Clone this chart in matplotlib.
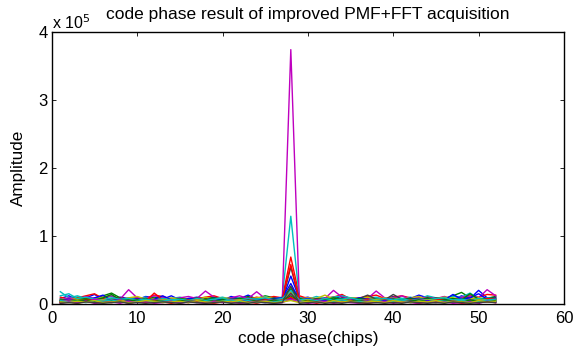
import numpy as np
import matplotlib.pyplot as plt
from matplotlib.ticker import FuncFormatter

plt.rcParams['font.family'] = ['Liberation Sans', 'DejaVu Sans']

# code phase 1..52 chips, amplitude in units of 1e3
chips = np.arange(1, 53)

a1 = [8,12,6,9,14,7,5,10,8,6,11,9,7, 12,6,8,10,7,9,5,11,8,13,7,6,9,
      6,41,8,10,6,9,7,12,8,5,10,9,7, 11,6,8,13,9,7,10,6,12,8,20,9,10]
a2 = [5,7,10,6,8,12,16,9,6,8,7,10,8, 6,9,7,5,8,10,6,9,7,11,8,12,9,
      7,25,9,6,8,7,10,6,9,8,11,7,6, 9,8,6,10,7,9,8,12,17,9,7,8,11]
a3 = [10,7,9,12,15,8,6,9,7,10,8,13,11, 7,9,6,8,10,12,8,6,9,7,10,8,11,
      9,69,12,8,6,9,10,14,7,9,11,13,8, 10,12,9,7,11,8,10,6,9,12,10,14,13]
a4 = [18,9,12,8,7,10,11,6,9,8,10,7,9, 8,10,7,9,6,8,10,7,9,6,8,11,7,
      10,129,9,7,11,8,10,12,9,7,8,10,6, 9,8,10,7,12,9,8,11,10,16,8,9,7]
a5 = [6,9,7,11,8,10,12,7,21,9,8,12,10, 7,9,11,8,19,10,7,9,12,8,18,8,7,
      5,374,6,9,7,8,20,10,7,9,8,19,9, 8,12,7,10,9,8,11,7,10,12,9,21,12]
a6 = [7,6,8,9,7,10,8,6,9,11,7,8,6, 9,7,8,6,10,7,9,8,6,7,9,10,8,
      6,18,7,9,8,13,7,6,9,8,10,7,9, 8,7,9,11,6,8,10,9,7,8,9,7,8]
a7 = [4,6,5,8,6,5,7,9,6,5,8,6,7, 5,7,6,9,5,8,6,7,5,9,6,7,8,
      6,54,7,5,8,6,7,9,6,8,13,7,6, 14,7,6,8,5,9,7,6,8,5,7,6,9]
a8 = [5,7,4,6,9,13,5,7,6,8,5,7,12, 6,5,8,7,6,9,5,7,8,6,7,5,8,
      9,30,6,8,5,7,6,8,5,9,7,6,8, 7,5,9,6,8,7,6,14,7,9,15,7,8]
a9 = [6,5,7,8,6,9,14,6,7,5,8,6,7, 5,8,6,7,5,9,7,6,8,7,5,6,7,
      6,22,8,5,7,6,9,7,5,8,6,7,5, 7,6,8,5,9,6,7,8,6,15,7,8,6]
a10 = [3,5,4,7,5,3,6,4,5,7,4,16,6, 5,4,6,3,7,5,4,6,5,8,4,6,5,
       7,58,5,4,6,5,3,6,4,5,7,4,6, 5,4,6,5,3,7,5,4,6,5,4,8,7]
a11 = [12,15,8,10,7,6,9,7,8,6,7,5,8, 6,7,5,8,6,7,9,5,6,8,7,9,6,
       8,20,6,7,5,8,6,7,9,6,5,7,8, 6,8,5,7,6,8,9,6,7,5,8,6,7]
a12 = [4,6,5,3,7,5,4,6,3,5,4,6,5, 3,5,4,6,3,5,4,6,5,3,4,5,6,
       4,14,5,3,6,4,5,3,6,4,5,4,3, 5,3,4,6,5,3,4,5,3,6,4,5,4]
a13 = [3,4,6,5,4,6,3,5,4,3,5,4,6, 5,3,4,6,5,4,3,5,6,4,5,3,4,
       5,9,4,6,3,5,4,6,5,3,4,6,5, 4,5,3,4,6,5,4,3,5,4,6,5,4]
a14 = [2,3,2,4,3,2,3,4,2,3,2,3,4, 3,2,4,3,2,3,4,2,3,2,4,3,2,
       3,16,2,3,4,2,3,2,4,3,2,3,2, 3,2,4,3,2,3,2,4,3,2,3,4,3]
a15 = [2,4,3,5,2,3,4,2,5,3,4,2,3, 4,2,3,5,2,4,3,2,4,5,3,2,4,
       3,8,4,2,3,5,2,4,3,2,4,3,5, 2,4,3,2,5,3,4,2,3,4,2,3,4]
a16 = [4,3,5,6,4,2,5,3,4,6,3,5,4, 2,5,4,3,6,4,5,3,2,4,5,3,6,
       4,12,3,5,4,2,6,3,4,5,3,4,2, 5,3,4,6,3,2,5,4,3,6,4,3,5]
a17 = [2,3,1,4,2,3,2,4,1,3,2,4,3, 1,3,2,4,2,1,3,4,2,3,1,4,2,
       3,10,2,4,1,3,2,3,4,2,1,3,2, 4,2,3,1,3,4,2,3,1,2,4,3,2]
a18 = [5,3,4,2,5,4,6,3,2,4,5,3,4, 6,3,4,2,5,3,4,6,3,5,2,4,3,
       5,6,4,3,5,2,4,6,3,4,2,5,3, 4,6,2,4,3,5,4,3,6,2,4,5,3]
a19 = [1,3,2,4,1,2,3,1,4,2,3,1,2, 4,1,3,2,1,4,2,3,1,2,4,3,1,
       2,7,3,1,2,4,1,3,2,1,3,2,4, 1,3,2,1,4,2,3,1,2,3,1,4,2]
a20 = [3,2,4,3,5,2,3,4,2,3,5,4,2, 3,4,2,5,3,2,4,3,5,2,3,4,2,
       3,5,2,4,3,2,5,3,4,2,3,4,2, 5,3,2,4,3,5,2,4,3,2,5,3,4]
a21 = [1,2,1,3,2,1,2,3,1,2,1,2,3, 2,1,3,2,1,2,3,1,2,1,3,2,1,
       2,26,1,2,3,1,2,1,3,2,1,2,1, 2,1,3,2,1,2,1,3,2,1,2,3,2]

series = [a1, a2, a3, a4, a5, a6, a7, a8, a9, a10, a11, a12, a13, a14,
          a15, a16, a17, a18, a19, a20, a21]

# old matlab colour order
cols = [(0, 0, 1), (0, 0.5, 0), (1, 0, 0), (0, 0.75, 0.75),
        (0.75, 0, 0.75), (0.75, 0.75, 0), (0.25, 0.25, 0.25)]

fig = plt.figure(figsize=(5.82, 3.51), dpi=100)
ax = fig.add_axes([0.089, 0.134, 0.88, 0.775])

for i, s in enumerate(series):
    ax.plot(chips, np.array(s) * 1e3, color=cols[i % 7], lw=1.0)

ax.set_xlim(0, 60)
ax.set_ylim(0, 4e5)
ax.set_xticks(np.arange(0, 61, 10))
ax.set_yticks(np.arange(0, 4.01e5, 1e5))
ax.yaxis.set_major_formatter(FuncFormatter(lambda v, p: '%d' % round(v / 1e5)))
ax.tick_params(direction='in', top=True, right=True, length=3, labelsize=12, width=0.6)
ax.tick_params(axis='x', pad=5)
ax.tick_params(axis='y', pad=3)
for sp in ax.spines.values():
    sp.set_linewidth(1.0)

ax.text(0.0, 1.0, 'x 10$^5$', transform=ax.transAxes, fontsize=11.5, va='bottom', ha='left')
ax.set_title('code phase result of improved PMF+FFT acquisition', fontsize=12.5, pad=9)
ax.set_xlabel('code phase(chips)', fontsize=12.3, labelpad=4)
ax.set_ylabel('Amplitude', fontsize=12.3, labelpad=9)

fig.savefig('out.png', dpi=100)
